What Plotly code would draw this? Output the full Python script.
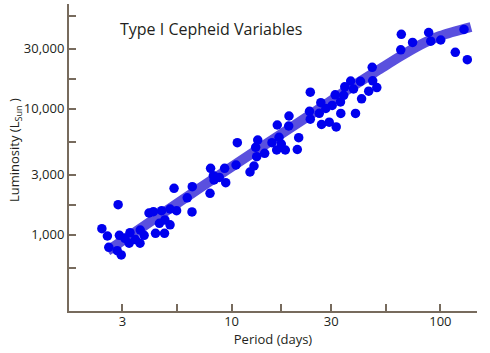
import plotly.graph_objects as go

# Observed Cepheids: period (days) and luminosity (L_sun)
period = [2.39, 2.54, 2.86, 2.58, 2.83, 2.96, 2.90, 3.08, 3.26, 3.23,
          3.46, 3.65, 3.64, 3.81, 4.02, 4.22, 4.32, 4.51, 4.62, 4.79,
          4.77, 5.07, 5.07, 5.45, 5.30, 6.13, 6.48, 6.46, 7.88, 7.93,
          8.18, 8.24, 8.73, 9.26, 9.37, 10.50, 10.65, 12.25, 12.80, 13.19,
          13.04, 13.34, 14.40, 15.61, 16.55, 16.87, 16.44, 17.30, 18.08, 18.83,
          18.77, 20.96, 20.64, 23.82, 23.61, 23.82, 26.75, 26.30, 26.96, 28.27,
          29.35, 30.33, 31.70, 31.35, 33.23, 33.34, 34.84, 34.42, 37.19, 38.37,
          39.22, 41.43, 41.94, 45.36, 47.41, 47.15, 49.60, 65.0, 64.6, 73.6,
          87.9, 90.0, 100.4, 117.9, 129.8, 134.6]
luminosity = [1115, 976, 1730, 794, 746, 690, 989, 936, 1037, 855,
              915, 1089, 855, 989, 1486, 1522, 1025, 1231, 1550, 1308,
              1025, 1198, 1599, 1550, 2335, 1963, 2404, 1514, 2131, 3366,
              2940, 2718, 2846, 3366, 2586, 3575, 5377, 3146, 3511, 4162,
              4941, 5648, 4429, 5377, 7430, 5933, 4704, 5250, 4704, 8761,
              7297, 5891, 4746, 13540, 9548, 8262, 11174, 9204, 7499, 10048,
              7822, 10634, 7165, 12908, 11337, 9187, 14946, 12790, 16614, 14355,
              9187, 16520, 12000, 13790, 16676, 21345, 14727, 39040, 29400, 33600,
              40340, 34410, 35170, 28090, 42700, 24530]

# Period-luminosity relation (fit curve)
fit_period = [2.544, 7.056, 13.68, 23.74, 36.91, 51.37, 64.06, 79.88, 99.6, 140.2]
fit_lum = [742, 2348, 4880, 8923, 14620, 20690, 26010, 32100, 37840, 44610]

x_tickvals = [3, 10, 30, 100]
x_ticktext = ["3", "10", "30", "100"]
x_minor = [5.477, 17.32, 54.77]
y_tickvals = [1000, 3000, 10000, 30000]
y_ticktext = ["1,000", "3,000", "10,000", "30,000"]
y_minor = [547.7, 1732, 5477, 17320, 54772]

AXIS = "#776b5d"
TEXT = "#231f20"
FONT = "Open Sans"

fig = go.Figure()
fig.add_trace(go.Scatter(
    x=fit_period, y=fit_lum, mode="lines",
    line=dict(color="rgb(90,80,222)", width=10, shape="spline", smoothing=0.8),
    hoverinfo="skip", showlegend=False))
fig.add_trace(go.Scatter(
    x=period, y=luminosity, mode="markers",
    marker=dict(color="rgb(0,0,238)", size=9.5, line=dict(width=0)),
    showlegend=False))

common = dict(ticks="inside", ticklen=7, tickwidth=2, tickcolor=AXIS,
              showline=True, linecolor=AXIS, linewidth=2,
              showgrid=False, zeroline=False,
              tickfont=dict(family=FONT, size=13, color=TEXT))

fig.update_layout(
    width=490, height=353,
    margin=dict(l=69, r=13, t=4, b=42),
    paper_bgcolor="white", plot_bgcolor="white",
    font=dict(family=FONT, size=13, color=TEXT),
    title=dict(text="Type I Cepheid Variables", x=120 / 490, xanchor="left",
               xref="container", yref="container",
               y=(353 - 29.5) / 353, yanchor="middle",
               font=dict(family=FONT, size=16, color=TEXT)),
    xaxis=dict(type="log", range=[0.2210, 2.1755],
               tickmode="array", tickvals=x_tickvals, ticktext=x_ticktext,
               minor=dict(tickmode="array", tickvals=x_minor, ticks="inside",
                          ticklen=7, tickwidth=2, tickcolor=AXIS, showgrid=False),
               ticklabelstandoff=-3,
               title=dict(text="Period (days)", font=dict(family=FONT, size=13, color=TEXT),
                          standoff=3),
               **common),
    yaxis=dict(type="log", range=[2.3937, 4.832],
               tickmode="array", tickvals=y_tickvals, ticktext=y_ticktext,
               minor=dict(tickmode="array", tickvals=y_minor, ticks="inside",
                          ticklen=7, tickwidth=2, tickcolor=AXIS, showgrid=False),
               **common),
    annotations=[
        dict(text="Luminosity (L<sub>Sun</sub> )", xref="paper", yref="paper",
             x=0, y=(311 - 150) / 307, xanchor="center", yanchor="middle",
             xshift=-54, textangle=-90, showarrow=False,
             font=dict(family=FONT, size=13, color=TEXT)),
    ],
)

fig.write_html("out.html")
